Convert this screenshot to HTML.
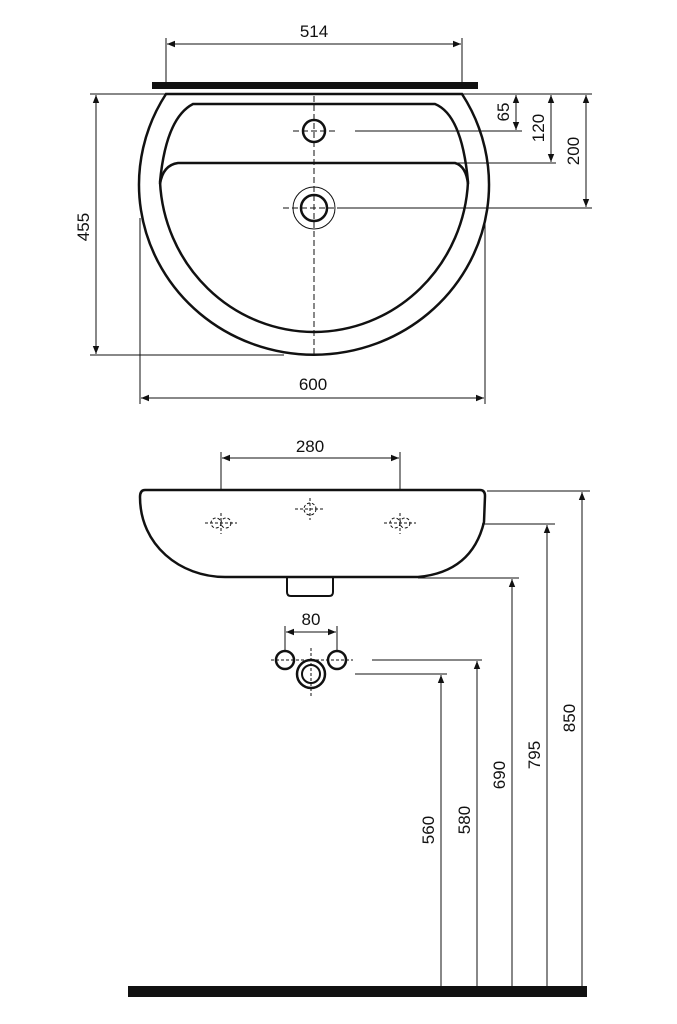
<!DOCTYPE html>
<html><head><meta charset="utf-8"><style>html,body{margin:0;padding:0;background:#fff}svg{display:block}text{font-family:"Liberation Sans",sans-serif;font-size:17px;fill:#111}</style></head><body>
<svg width="677" height="1024" viewBox="0 0 677 1024" xmlns="http://www.w3.org/2000/svg">
<defs>
<marker id="a" viewBox="0 0 10 10" refX="10" refY="5" markerWidth="8" markerHeight="8" orient="auto-start-reverse" markerUnits="userSpaceOnUse"><path d="M0,1 L10,5 L0,9 Z" fill="#111"/></marker>
</defs>
<g stroke="#111" fill="none">
<line x1="166" y1="38" x2="166" y2="82" stroke-width="1"/>
<line x1="462" y1="38" x2="462" y2="82" stroke-width="1"/>
<line x1="167" y1="44" x2="461" y2="44" stroke-width="1" marker-start="url(#a)" marker-end="url(#a)"/>
<rect x="152" y="82" width="326" height="7" fill="#111" stroke="none"/>
<line x1="90" y1="94" x2="166" y2="94" stroke-width="1"/>
<line x1="462" y1="94" x2="592" y2="94" stroke-width="1"/>
<path d="M166,94 L462,94 A175 170 0 1 1 166 94 Z" stroke-width="2.5"/>
<path d="M193,104 L435,104 Q462,115 468,182 A154.2 158 0 0 1 160 182 Q166,118 193,104 Z" stroke-width="2.5"/>
<path d="M160,184 Q163,165 178,163 L455,163 Q466,166 468,184" stroke-width="2.5"/>
<line x1="314" y1="96" x2="314" y2="357" stroke-width="1" stroke-dasharray="6,3"/>
<circle cx="314" cy="131" r="11" stroke-width="2.5"/>
<line x1="293" y1="131" x2="336" y2="131" stroke-width="1" stroke-dasharray="6,3"/>
<circle cx="314" cy="208" r="13" stroke-width="2.5"/>
<circle cx="314" cy="208" r="21" stroke-width="1"/>
<line x1="283" y1="208" x2="345" y2="208" stroke-width="1" stroke-dasharray="6,3"/>
<line x1="355" y1="131" x2="522" y2="131" stroke-width="1"/>
<line x1="455" y1="163" x2="556" y2="163" stroke-width="1"/>
<line x1="343" y1="208" x2="592" y2="208" stroke-width="1"/>
<line x1="516" y1="95" x2="516" y2="130" stroke-width="1" marker-start="url(#a)" marker-end="url(#a)"/>
<line x1="551" y1="95" x2="551" y2="162" stroke-width="1" marker-start="url(#a)" marker-end="url(#a)"/>
<line x1="586" y1="95" x2="586" y2="207" stroke-width="1" marker-start="url(#a)" marker-end="url(#a)"/>
<line x1="96" y1="95" x2="96" y2="354" stroke-width="1" marker-start="url(#a)" marker-end="url(#a)"/>
<line x1="90" y1="355" x2="284" y2="355" stroke-width="1"/>
<line x1="140" y1="218" x2="140" y2="404" stroke-width="1"/>
<line x1="485" y1="218" x2="485" y2="404" stroke-width="1"/>
<line x1="141" y1="398" x2="484" y2="398" stroke-width="1" marker-start="url(#a)" marker-end="url(#a)"/>
<line x1="221" y1="452" x2="221" y2="490" stroke-width="1"/>
<line x1="400" y1="452" x2="400" y2="490" stroke-width="1"/>
<line x1="222" y1="458" x2="399" y2="458" stroke-width="1" marker-start="url(#a)" marker-end="url(#a)"/>
<path d="M145,490 L480,490 Q485,490 485,496 L484,522 Q472,572 418,577 L225,577 C180,577 140,545 140,497 Q140,490 145,490 Z" stroke-width="2.5"/>
<path d="M287,578 L287,592 Q287,596 291,596 L329,596 Q333,596 333,592 L333,578" stroke-width="2"/>
<g stroke-width="1" stroke-dasharray="3,2">
<circle cx="216" cy="523" r="5"/><circle cx="226" cy="523" r="5"/><line x1="205" y1="523" x2="237" y2="523"/><line x1="221" y1="513" x2="221" y2="534"/>
<circle cx="310" cy="509" r="6"/><line x1="295" y1="509" x2="325" y2="509"/><line x1="310" y1="498" x2="310" y2="520"/>
<circle cx="395" cy="523" r="5"/><circle cx="405" cy="523" r="5"/><line x1="384" y1="523" x2="416" y2="523"/><line x1="400" y1="513" x2="400" y2="534"/>
</g>
<line x1="487" y1="491" x2="590" y2="491" stroke-width="1"/>
<line x1="482" y1="524" x2="555" y2="524" stroke-width="1"/>
<line x1="418" y1="578" x2="519" y2="578" stroke-width="1"/>
<line x1="285" y1="626" x2="285" y2="650" stroke-width="1"/>
<line x1="337" y1="626" x2="337" y2="650" stroke-width="1"/>
<line x1="286" y1="632" x2="336" y2="632" stroke-width="1" marker-start="url(#a)" marker-end="url(#a)"/>
<circle cx="285" cy="660" r="9" stroke-width="2.5"/>
<circle cx="337" cy="660" r="9" stroke-width="2.5"/>
<circle cx="311" cy="674" r="14" stroke-width="2.5"/>
<circle cx="311" cy="674" r="9" stroke-width="2"/>
<g stroke-width="1" stroke-dasharray="3,2">
<line x1="271" y1="660" x2="353" y2="660"/><line x1="311" y1="648" x2="311" y2="697"/>
</g>
<line x1="372" y1="660" x2="482" y2="660" stroke-width="1"/>
<line x1="355" y1="674" x2="447" y2="674" stroke-width="1"/>
<line x1="441" y1="990" x2="441" y2="675" stroke-width="1" marker-end="url(#a)"/>
<line x1="477" y1="990" x2="477" y2="661" stroke-width="1" marker-end="url(#a)"/>
<line x1="512" y1="990" x2="512" y2="579" stroke-width="1" marker-end="url(#a)"/>
<line x1="547" y1="990" x2="547" y2="525" stroke-width="1" marker-end="url(#a)"/>
<line x1="582" y1="990" x2="582" y2="492" stroke-width="1" marker-end="url(#a)"/>
<rect x="128" y="986" width="459" height="11" fill="#111" stroke="none"/>
</g>
<g text-anchor="middle">
<text x="314" y="37">514</text>
<text x="313" y="390">600</text>
<text x="310" y="452">280</text>
<text x="311" y="625">80</text>
<text transform="translate(509,112) rotate(-90)">65</text>
<text transform="translate(544,128) rotate(-90)">120</text>
<text transform="translate(579,151) rotate(-90)">200</text>
<text transform="translate(89,227) rotate(-90)">455</text>
<text transform="translate(434,830) rotate(-90)">560</text>
<text transform="translate(470,820) rotate(-90)">580</text>
<text transform="translate(505,775) rotate(-90)">690</text>
<text transform="translate(540,755) rotate(-90)">795</text>
<text transform="translate(575,718) rotate(-90)">850</text>
</g>
</svg>
</body></html>
